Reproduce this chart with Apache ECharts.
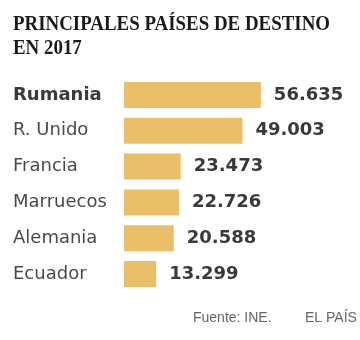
<!DOCTYPE html>
<html><head><meta charset="utf-8">
<script src="https://cdn.jsdelivr.net/npm/echarts@6/dist/echarts.min.js"></script>
<style>html,body{margin:0;padding:0;background:#fff}#c{width:360px;height:340px}</style>
</head><body><div id="c"></div>
<script>
const categories = ['Rumania', 'R. Unido', 'Francia', 'Marruecos', 'Alemania', 'Ecuador'];
const values = [56635, 49003, 23473, 22726, 20588, 13299];
const titleText = 'PRINCIPALES PAÍSES DE DESTINO\nEN 2017';
const sourceText = 'Fuente: INE.';
const brandText = 'EL PAÍS';

const chart = echarts.init(document.getElementById('c'));
chart.setOption({
  animation: false,
  backgroundColor: '#fff',
  grid: { left: 124, top: 77, height: 215, right: 91 },
  xAxis: { type: 'value', min: 0, max: 60000, show: false },
  yAxis: {
    type: 'category', data: categories, inverse: true,
    axisLine: { show: false }, axisTick: { show: false },
    axisLabel: {
      align: 'left', margin: 111,
      fontFamily: 'DejaVu Sans', fontSize: 18, color: '#4a4a4a',
      formatter: (v, i) => i === 0 ? '{b|' + v + '}' : v,
      rich: { b: { fontFamily: 'DejaVu Sans', fontWeight: 'bold', fontSize: 18, color: '#3a3a3a' } }
    }
  },
  series: [{
    type: 'bar', data: values, barWidth: 26,
    itemStyle: { color: '#E9BF6A' },
    label: {
      show: true, position: 'right', distance: 13,
      fontFamily: 'DejaVu Sans', fontWeight: 'bold', fontSize: 18, color: '#3a3a3a',
      formatter: p => p.value.toLocaleString('de-DE')
    }
  }],
  graphic: [
    { type: 'text', x: 13, y: 13, scaleX: 0.9,
      style: { text: titleText, font: 'bold 21px "Liberation Serif"', lineHeight: 24, fill: '#1a1a1a', verticalAlign: 'top' } },
    { type: 'text', left: 193, top: 311, style: { text: sourceText, font: '14px "Liberation Sans"', fill: '#666' } },
    { type: 'text', left: 305, top: 311, style: { text: brandText, font: '14px "Liberation Sans"', fill: '#666' } }
  ]
});
</script></body></html>
